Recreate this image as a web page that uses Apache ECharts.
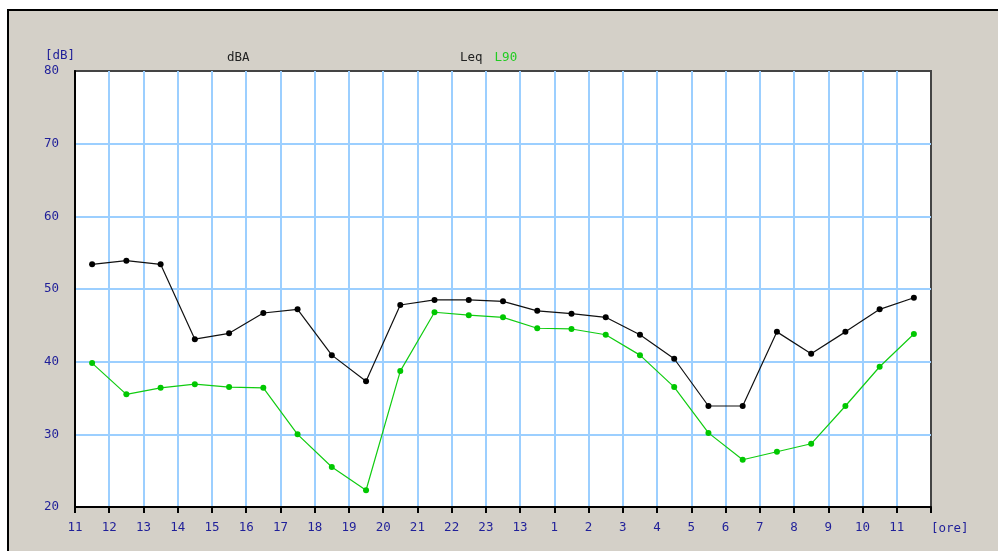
<!DOCTYPE html>
<html>
<head>
<meta charset="utf-8">
<style>
  html, body { margin: 0; padding: 0; background: #ffffff; }
  #chart { width: 998px; height: 551px; }
</style>
<script src="https://cdn.jsdelivr.net/npm/echarts@6/dist/echarts.min.js"></script>
</head>
<body>
<div id="chart"></div>
<script>
// Hour labels along the time axis (one per hour boundary, last boundary unlabeled)
const hourLabels = ['11','12','13','14','15','16','17','18','19','20','21','22','23','13',
                    '1','2','3','4','5','6','7','8','9','10','11',''];

// Hourly levels in dBA, one value per hour slot
const leqValues = [53.4, 53.9, 53.4, 43.1, 43.9, 46.7, 47.2, 40.9, 37.3, 47.8, 48.5, 48.5, 48.3,
                   47.0, 46.6, 46.1, 43.7, 40.4, 33.9, 33.9, 44.1, 41.1, 44.1, 47.2, 48.8];
const l90Values = [39.8, 35.5, 36.4, 36.9, 36.5, 36.4, 30.0, 25.5, 22.3, 38.7, 46.8, 46.4, 46.1,
                   44.6, 44.5, 43.7, 40.9, 36.5, 30.2, 26.5, 27.6, 28.7, 33.9, 39.3, 43.8];

const yTicks = { min: 20, max: 80, step: 10 };

const navy = '#1f1f99';
const mono = 'DejaVu Sans Mono';
const fs = 12.5;

// Each hourly value sits in the middle of its hour slot
const toPoints = arr => arr.map((v, i) => [i + 0.5, v]);

const chart = echarts.init(document.getElementById('chart'), null, { renderer: 'canvas' });

chart.setOption({
  animation: false,
  backgroundColor: '#ffffff',
  graphic: [{
    type: 'rect',
    z: -10,
    silent: true,
    shape: { x: 8, y: 10, width: 1000, height: 560 },
    style: { fill: '#d4d0c8', stroke: '#000000', lineWidth: 2 }
  }],
  title: {
    text: 'dBA',
    left: 227,
    top: 51,
    padding: 0,
    textStyle: { fontFamily: mono, fontSize: fs, fontWeight: 'normal', color: '#222222' }
  },
  legend: {
    left: 455,
    top: 51,
    padding: 0,
    icon: 'none',
    itemWidth: 0,
    itemHeight: 0,
    itemGap: 7,
    textStyle: { fontFamily: mono, fontSize: fs },
    data: [
      { name: 'Leq', textStyle: { color: '#222222' } },
      { name: 'L90', textStyle: { color: '#22cc22' } }
    ]
  },
  grid: {
    left: 75, top: 71, right: 67, bottom: 44,
    show: true,
    backgroundColor: '#ffffff',
    borderColor: '#444444',
    borderWidth: 2
  },
  xAxis: {
    type: 'value',
    min: 0,
    max: hourLabels.length - 1,
    interval: 1,
    name: '[ore]',
    nameLocation: 'end',
    nameGap: 0,
    nameTextStyle: {
      fontFamily: mono, fontSize: fs, color: navy,
      align: 'left', verticalAlign: 'top', padding: [15, 0, 0, 0]
    },
    axisLine: { show: true, lineStyle: { color: '#000000', width: 2 } },
    axisTick: { show: true, inside: false, length: 6, lineStyle: { color: '#000000', width: 2 } },
    axisLabel: {
      show: true,
      showMinLabel: true,
      showMaxLabel: true,
      margin: 14,
      fontFamily: mono, fontSize: fs, color: navy,
      formatter: v => hourLabels[Math.round(v)] || ''
    },
    splitLine: {
      show: true, showMinLine: false, showMaxLine: false,
      lineStyle: { color: '#9ccfff', width: 2 }
    }
  },
  yAxis: {
    type: 'value',
    min: yTicks.min,
    max: yTicks.max,
    interval: yTicks.step,
    name: '[dB]',
    nameLocation: 'end',
    nameGap: 9,
    nameTextStyle: { fontFamily: mono, fontSize: fs, color: navy, align: 'right' },
    axisLine: { show: true, lineStyle: { color: '#000000', width: 2 } },
    axisTick: { show: false },
    axisLabel: { margin: 16, fontFamily: mono, fontSize: fs, color: navy },
    splitLine: {
      show: true, showMinLine: false, showMaxLine: false,
      lineStyle: { color: '#9ccfff', width: 2 }
    }
  },
  series: [
    {
      name: 'Leq',
      type: 'line',
      data: toPoints(leqValues),
      symbol: 'circle',
      symbolSize: 6,
      lineStyle: { color: '#111111', width: 1.2 },
      itemStyle: { color: '#000000' },
      z: 3
    },
    {
      name: 'L90',
      type: 'line',
      data: toPoints(l90Values),
      symbol: 'circle',
      symbolSize: 6,
      lineStyle: { color: '#11cc11', width: 1.2 },
      itemStyle: { color: '#00c800' },
      z: 2
    }
  ]
});
</script>
</body>
</html>
